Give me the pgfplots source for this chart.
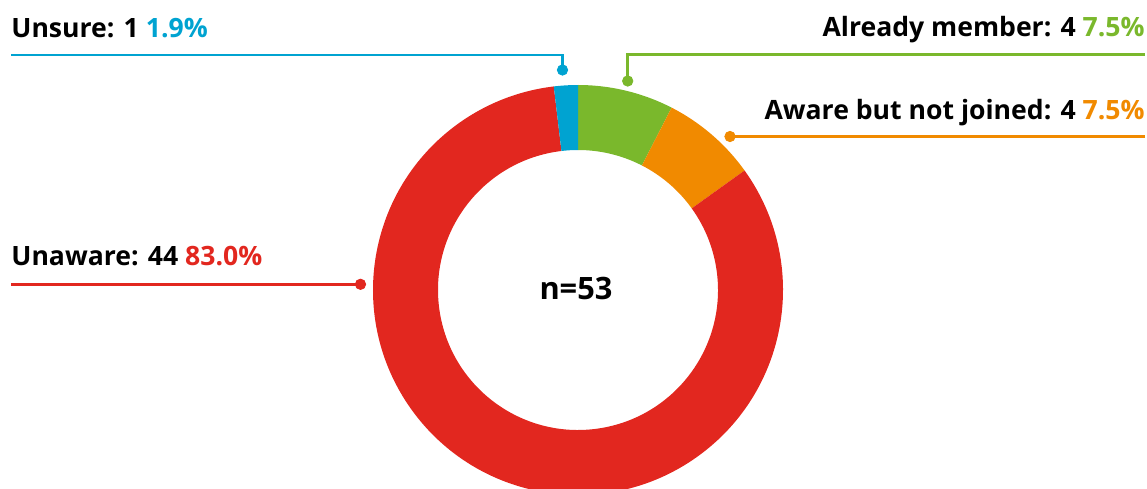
\documentclass[border=0pt]{standalone}
\usepackage{pgfplots}
\usepackage{pgfplotstable}
\pgfplotsset{compat=1.18}
\usepackage{fontspec}
\setmainfont{Open Sans}

\definecolor{cMember}{HTML}{7AB82C}
\definecolor{cAware}{HTML}{F18A00}
\definecolor{cUnaware}{HTML}{E2271F}
\definecolor{cUnsure}{HTML}{00A3D1}

% responses, clockwise from the top
\pgfplotstableread{
group count
member 4
aware 4
unaware 44
unsure 1
}\slices

\begin{document}
\begin{tikzpicture}
\pgfplotstablegetelem{0}{count}\of\slices \let\cA\pgfplotsretval
\pgfplotstablegetelem{1}{count}\of\slices \let\cB\pgfplotsretval
\pgfplotstablegetelem{2}{count}\of\slices \let\cC\pgfplotsretval
\pgfplotstablegetelem{3}{count}\of\slices \let\cD\pgfplotsretval
\pgfmathsetmacro\total{\cA+\cB+\cC+\cD}
\pgfmathsetmacro\aZero{90}
\pgfmathsetmacro\aOne{\aZero-360*\cA/\total}
\pgfmathsetmacro\aTwo{\aOne-360*\cB/\total}
\pgfmathsetmacro\aThree{\aTwo-360*\cC/\total}
\pgfmathsetmacro\aFour{\aThree-360*\cD/\total}
% ring radii (outer / inner)
\def\Ro{102.5pt}
\def\Ri{70pt}
\newcommand\ring[3]{%
  \fill[#1] ([shift={(#2:\Ro)}]axis cs:578,198)
    arc[start angle=#2, end angle=#3, radius=\Ro]
    -- ([shift={(#3:\Ri)}]axis cs:578,198)
    arc[start angle=#3, end angle=#2, radius=\Ri] -- cycle;}
\begin{axis}[
  x=0.5pt, y=0.5pt,
  xmin=0, xmax=1147, ymin=0, ymax=488,
  hide axis,
  clip=true,
]
\edef\temp{\noexpand\ring{cMember}{\aZero}{\aOne}}\temp
\edef\temp{\noexpand\ring{cAware}{\aOne}{\aTwo}}\temp
\edef\temp{\noexpand\ring{cUnaware}{\aTwo}{\aThree}}\temp
\edef\temp{\noexpand\ring{cUnsure}{\aThree}{\aFour}}\temp

% leader lines
\addplot[cUnsure, line width=1.3pt] coordinates {(11,433) (562.5,433) (562.5,418)};
\addplot[cMember, line width=1.3pt] coordinates {(1145,433.5) (627.7,433.5) (627.7,407)};
\addplot[cAware, line width=1.3pt] coordinates {(1145,351.5) (730,351.5)};
\addplot[cUnaware, line width=1.3pt] coordinates {(11,203.7) (360.5,203.7)};
\addplot[cUnsure, only marks, mark=*, mark size=2.6pt] coordinates {(562.5,418)};
\addplot[cMember, only marks, mark=*, mark size=2.6pt] coordinates {(627.7,407)};
\addplot[cAware, only marks, mark=*, mark size=2.6pt] coordinates {(730,351.5)};
\addplot[cUnaware, only marks, mark=*, mark size=2.6pt] coordinates {(360.5,203.7)};

% labels
\begin{scope}[every node/.style={inner sep=0pt, font=\fontsize{13.3}{16}\selectfont\bfseries}]
\node[anchor=base west] at (axis cs:11,450.5) {Unsure: 1 \textcolor{cUnsure}{1.9\%}};
\node[anchor=base east] at (axis cs:1145,451.3) {Already member: 4 \textcolor{cMember}{7.5\%}};
\node[anchor=base east] at (axis cs:1145,368) {Aware but not joined: 4 \textcolor{cAware}{7.5\%}};
\node[anchor=base west] at (axis cs:11,222) {Unaware: 44 \textcolor{cUnaware}{83.0\%}};
\end{scope}
\node[anchor=base, inner sep=0pt, font=\fontsize{15.4}{18}\selectfont\bfseries] at (axis cs:576,188) {n=53};
\end{axis}
\pgfresetboundingbox
\path[use as bounding box] (current axis.south west) rectangle (current axis.north east);
\end{tikzpicture}
\end{document}
